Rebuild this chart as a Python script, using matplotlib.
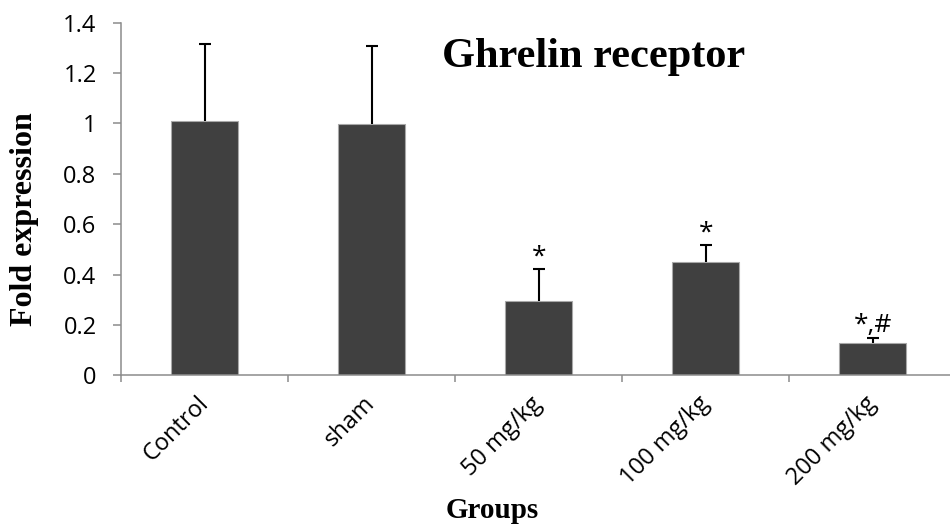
import matplotlib
matplotlib.use("Agg")
import matplotlib.pyplot as plt
import numpy as np

# Ghrelin receptor fold expression per group (mean and SEM)
groups = ["Control", "sham", "50 mg/kg", "100 mg/kg", "200 mg/kg"]
fold_expression = [1.008, 0.998, 0.294, 0.449, 0.128]
sem = [0.308, 0.308, 0.129, 0.068, 0.020]
significance = ["", "", "*", "*", "*,#"]
y_ticks = [0, 0.2, 0.4, 0.6, 0.8, 1.0, 1.2, 1.4]
y_tick_labels = ["0", "0.2", "0.4", "0.6", "0.8", "1", "1.2", "1.4"]

plt.rcParams["font.family"] = ["Open Sans", "DejaVu Sans"]
plt.rcParams["font.size"] = 16

W, H = 950, 527
fig = plt.figure(figsize=(W / 100, H / 100), dpi=100)

# axes box in pixel terms: left spine at x=121, baseline at y=375, top at y=23
left, right = 121.3, 956.3
bottom, top = 375.3, 22.7
ax = fig.add_axes([left / W, 1 - bottom / H, (right - left) / W, (bottom - top) / H])

x = np.arange(len(groups))
ax.bar(x, fold_expression, width=0.4, color="#404040", edgecolor="#a8a8a8",
       linewidth=0.8, zorder=2)

eb = ax.errorbar(x, fold_expression, yerr=[np.zeros(len(sem)), sem], fmt="none",
                 ecolor="black", elinewidth=1.5, capsize=4.3, capthick=1.5, zorder=3)
# only the upper caps are shown
eb.lines[1][0].set_visible(False)

ax.set_xlim(-0.5, len(groups) - 0.5)
ax.set_ylim(0, 1.4)
ax.set_yticks(y_ticks)
ax.set_yticklabels(y_tick_labels)

# category boundaries carry the tick marks, centers carry the labels
ax.set_xticks(np.arange(-0.5, len(groups)), minor=False)
ax.set_xticklabels([])
ax.set_xticks(x, minor=True)
ax.set_xticklabels(groups, minor=True, rotation=45, ha="right",
                   rotation_mode="anchor", va="center")

spine_c = "#8c8c8c"
for s in ["top", "right"]:
    ax.spines[s].set_visible(False)
for s in ["left", "bottom"]:
    ax.spines[s].set_color(spine_c)
    ax.spines[s].set_linewidth(1.1)

ax.tick_params(axis="y", which="major", direction="out", length=5.8, width=1.1,
               color=spine_c, pad=12, labelsize=17, labelcolor="black")
ax.tick_params(axis="x", which="major", direction="out", length=5.3, width=1.1,
               color=spine_c)
ax.tick_params(axis="x", which="minor", length=0, pad=18, labelsize=17,
               labelcolor="black")

# significance markers above the error bars
for xi, m, e, mark in zip(x, fold_expression, sem, significance):
    if mark:
        ax.annotate(mark, xy=(xi, m + e), xytext=(0, 4), textcoords="offset points",
                    ha="center", va="baseline", fontsize=19)

serif = "Liberation Serif"
fig.text(594 / W, 1 - 66.7 / H, "Ghrelin receptor", ha="center", va="baseline",
         family=serif, weight="bold", fontsize=30.5)
fig.text(25 / W, 1 - 219 / H, "Fold expression", ha="center", va="center",
         rotation=90, family=serif, weight="bold", fontsize=23)
fig.text(492 / W, 1 - 518 / H, "Groups", ha="center", va="baseline",
         family=serif, weight="bold", fontsize=21)

fig.savefig("out.png", dpi=100)
